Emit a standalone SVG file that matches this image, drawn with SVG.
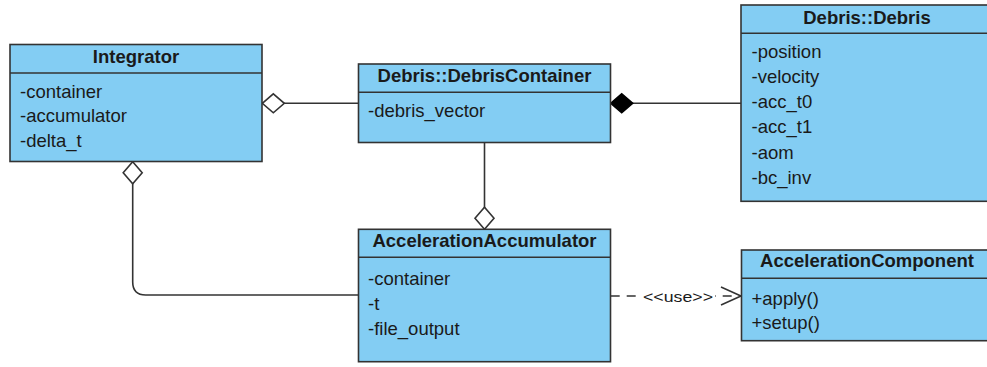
<svg xmlns="http://www.w3.org/2000/svg" width="987" height="367" viewBox="0 0 987 367">
  <style>
    .box { fill: #83cdf3; stroke: #333333; stroke-width: 1.6; }
    .sep { stroke: #333333; stroke-width: 1.6; }
    .title { font-family: "Liberation Sans", Arial, sans-serif; font-size: 18.5px; font-weight: bold; fill: #1a1a1a; text-anchor: middle; }
    .attr { font-family: "Liberation Sans", Arial, sans-serif; font-size: 18.5px; fill: #1a1a1a; }
    .edge { fill: none; stroke: #333333; stroke-width: 1.6; }
    .dash { stroke-dasharray: 9 7; }
    .lbl { font-family: "Liberation Sans", Arial, sans-serif; font-size: 15px; fill: #1a1a1a; }
  </style>
  <defs>
    <marker id="aggregation" markerUnits="userSpaceOnUse" markerWidth="24" markerHeight="22" refX="0" refY="0" orient="auto" overflow="visible">
      <path d="M0,0 L11,-9.5 L22,0 L11,9.5 Z" fill="#ffffff" stroke="#333333" stroke-width="1.6"/>
    </marker>
    <marker id="composition" markerUnits="userSpaceOnUse" markerWidth="24" markerHeight="22" refX="0" refY="0" orient="auto" overflow="visible">
      <path d="M0,0 L11,-9.5 L22,0 L11,9.5 Z" fill="#000000" stroke="#000000" stroke-width="1.6"/>
    </marker>
    <marker id="open-arrow" markerUnits="userSpaceOnUse" markerWidth="24" markerHeight="22" refX="0" refY="0" orient="auto" overflow="visible">
      <path d="M-20,-9 L0,0 L-20,9" fill="none" stroke="#333333" stroke-width="1.6"/>
    </marker>
  </defs>

  <g id="connectors">
    <!-- Integrator <>— DebrisContainer -->
    <path class="edge" d="M262.3,103.3 H358.5" marker-start="url(#aggregation)"/>
    <!-- DebrisContainer <#>— Debris -->
    <path class="edge" d="M610.7,103.3 H741" marker-start="url(#composition)"/>
    <!-- AccelerationAccumulator <>— DebrisContainer -->
    <path class="edge" d="M484.5,229.3 V142.7" marker-start="url(#aggregation)"/>
    <!-- Integrator <>— AccelerationAccumulator -->
    <path class="edge" d="M132.7,161.7 V282 Q132.7,295 145.7,295 H358.5" marker-start="url(#aggregation)"/>
    <!-- AccelerationAccumulator - - > AccelerationComponent -->
    <path class="edge dash" d="M610.7,296 H741" marker-end="url(#open-arrow)"/>
    <rect x="641" y="287" width="74" height="17" fill="#ffffff"/>
    <text class="lbl" x="643" y="301.5" textLength="70" lengthAdjust="spacingAndGlyphs">&lt;&lt;use&gt;&gt;</text>
  </g>

  <g id="integrator">
    <rect class="box" x="10" y="44.5" width="252" height="117"/>
    <line class="sep" x1="10" y1="73" x2="262" y2="73"/>
    <text class="title" x="136" y="62.5">Integrator</text>
    <text class="attr" x="20" y="97.5">-container</text>
    <text class="attr" x="20" y="122">-accumulator</text>
    <text class="attr" x="20" y="146.5">-delta_t</text>
  </g>

  <g id="debris-container">
    <rect class="box" x="358.5" y="64" width="252" height="78.5"/>
    <line class="sep" x1="358.5" y1="92.3" x2="610.5" y2="92.3"/>
    <text class="title" x="484.5" y="81.7">Debris::DebrisContainer</text>
    <text class="attr" x="368" y="116.7">-debris_vector</text>
  </g>

  <g id="debris">
    <rect class="box" x="741" y="5" width="252" height="196.3"/>
    <line class="sep" x1="741" y1="33.3" x2="993" y2="33.3"/>
    <text class="title" x="867" y="23.5">Debris::Debris</text>
    <text class="attr" x="751.5" y="57.5">-position</text>
    <text class="attr" x="751.5" y="82.8">-velocity</text>
    <text class="attr" x="751.5" y="108.1">-acc_t0</text>
    <text class="attr" x="751.5" y="133.4">-acc_t1</text>
    <text class="attr" x="751.5" y="158.7">-aom</text>
    <text class="attr" x="751.5" y="184">-bc_inv</text>
  </g>

  <g id="acceleration-accumulator">
    <rect class="box" x="358.5" y="229.3" width="252" height="132.4"/>
    <line class="sep" x1="358.5" y1="257.3" x2="610.5" y2="257.3"/>
    <text class="title" x="484.5" y="247.3">AccelerationAccumulator</text>
    <text class="attr" x="368" y="285">-container</text>
    <text class="attr" x="368" y="309.8">-t</text>
    <text class="attr" x="368" y="334.5">-file_output</text>
  </g>

  <g id="acceleration-component">
    <rect class="box" x="741.5" y="250" width="252" height="90.7"/>
    <line class="sep" x1="741.5" y1="278.3" x2="993.5" y2="278.3"/>
    <text class="title" x="867" y="267.3">AccelerationComponent</text>
    <text class="attr" x="751.5" y="304.5">+apply()</text>
    <text class="attr" x="751.5" y="329">+setup()</text>
  </g>
</svg>
